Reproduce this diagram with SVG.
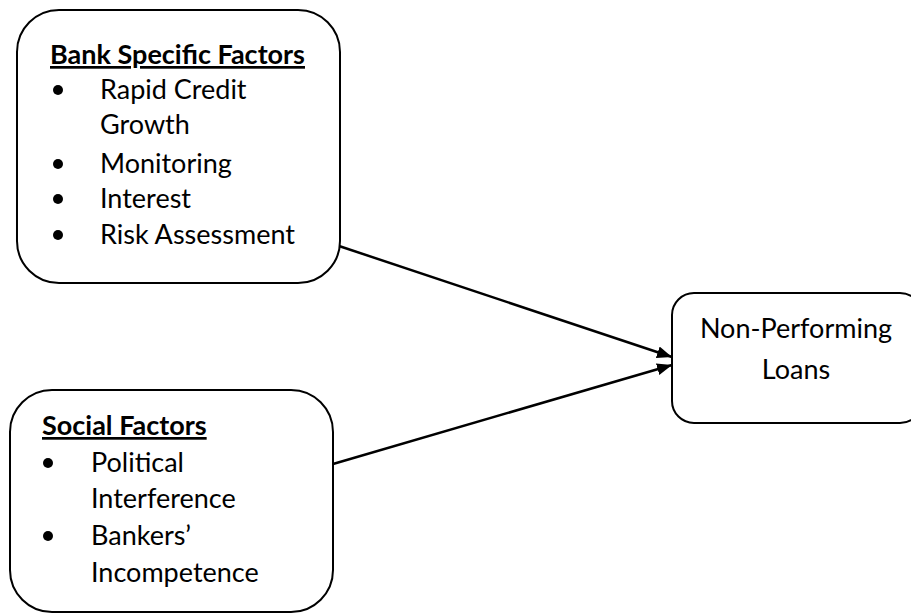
<svg xmlns="http://www.w3.org/2000/svg" width="911" height="614" viewBox="0 0 911 614">
<defs>
<style>
.box{fill:#fff;stroke:#000;stroke-width:2}
text{font-family:Lato,"Liberation Sans",sans-serif;font-size:27px;fill:#000}
.h{font-weight:bold;text-decoration:underline}
.c{stroke:#000;stroke-width:2.5;fill:none}
</style>
<marker id="ah" markerWidth="15" markerHeight="12" refX="15" refY="6" orient="auto" markerUnits="userSpaceOnUse" viewBox="0 0 15 12"><path d="M0,0 L15,6 L0,12 Z" fill="#000"/></marker>
</defs>
<rect width="911" height="614" fill="#fff"/>
<g id="connectors">
<line class="c" x1="339" y1="246" x2="672" y2="357" marker-end="url(#ah)"/>
<line class="c" x1="333" y1="464" x2="672" y2="365" marker-end="url(#ah)"/>
</g>
<g id="bank">
<rect class="box" x="17" y="10" width="323" height="273" rx="42"/>
<text class="h" x="50" y="64">Bank Specific Factors</text>
<circle cx="58" cy="90" r="5"/><text x="100" y="99">Rapid Credit</text>
<text x="100" y="134">Growth</text>
<circle cx="58" cy="164" r="5"/><text x="100" y="173">Monitoring</text>
<circle cx="58" cy="199" r="5"/><text x="100" y="208">Interest</text>
<circle cx="58" cy="235" r="5"/><text x="100" y="244">Risk Assessment</text>
</g>
<g id="social">
<rect class="box" x="10" y="390" width="323" height="222" rx="42"/>
<text class="h" x="42" y="435">Social Factors</text>
<circle cx="48" cy="463" r="5"/><text x="91" y="472">Political</text>
<text x="91" y="508">Interference</text>
<circle cx="48" cy="536" r="5"/><text x="91" y="545">Bankers’</text>
<text x="91" y="582">Incompetence</text>
</g>
<g id="npl">
<rect class="box" x="672" y="293" width="250" height="130" rx="22"/>
<text x="796" y="338" text-anchor="middle">Non-Performing</text>
<text x="796" y="379" text-anchor="middle">Loans</text>
</g>
</svg>
